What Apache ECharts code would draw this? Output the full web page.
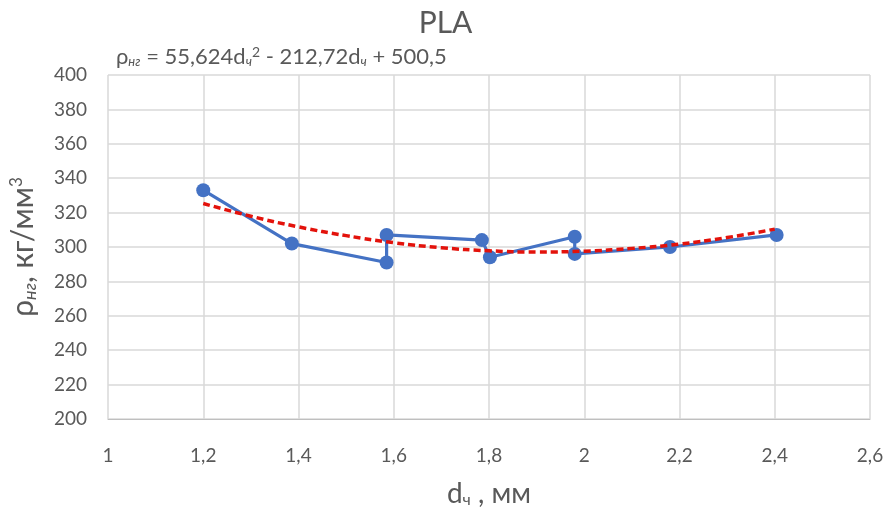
<!DOCTYPE html>
<html><head><meta charset="utf-8">
<script src="https://cdn.jsdelivr.net/npm/echarts@6/dist/echarts.min.js"></script>
<style>html,body{margin:0;padding:0;background:#fff}#c{width:891px;height:513px}</style>
</head><body><div id="c"></div>
<script>
// measured data (diameter d, mm ; density)
const dValues = [1.2, 1.386, 1.585, 1.585, 1.785, 1.802, 1.98, 1.98, 2.18, 2.404];
const rhoValues = [333, 302, 291, 307, 304, 294, 306, 296, 300, 307];
// polynomial trend line
const trendD = [1.2, 1.3, 1.4, 1.5, 1.6, 1.7, 1.8, 1.9, 2.0, 2.1, 2.2, 2.3, 2.4];
const trendRho = [325.3, 317.9, 311.7, 306.6, 302.5, 299.6, 297.8, 297.1, 297.6, 299.2, 301.7, 305.5, 310.4];
const xTicks = ['1', '1,2', '1,4', '1,6', '1,8', '2', '2,2', '2,4', '2,6'];

const FONT = 'Lato, "Open Sans", sans-serif';
const GREY = '#595959';
const chart = echarts.init(document.getElementById('c'), null, {renderer: 'canvas'});
chart.setOption({
  animation: false,
  backgroundColor: '#fff',
  title: {
    text: 'PLA', left: 'center', top: 3,
    textStyle: {fontFamily: FONT, fontSize: 30, fontWeight: 'normal', color: GREY}
  },
  graphic: [{
    type: 'text', left: 116, top: 45,
    style: {
      text: '{r|ρ}{s|нг}{t| = 55,624d}{s|ч}{p|2}{t| - 212,72d}{s|ч}{t| + 500,5}',
      rich: {
        r: {fontFamily: FONT, fontSize: 22, fill: GREY},
        t: {fontFamily: FONT, fontSize: 22, fill: GREY},
        s: {fontFamily: FONT, fontSize: 13, fontStyle: 'italic', fill: GREY, padding: [10, 0, 0, 0]},
        p: {fontFamily: FONT, fontSize: 14, fill: GREY, padding: [0, 0, 10, 0]}
      }
    }
  }],
  grid: {left: 108, right: 21, top: 75, bottom: 94, containLabel: false},
  xAxis: {
    type: 'value', min: 1, max: 2.6, interval: 0.2,
    axisLine: {show: true, lineStyle: {color: '#bfbfbf'}},
    axisTick: {show: false},
    splitLine: {show: true, lineStyle: {color: '#d9d9d9', width: 1.5}},
    axisLabel: {
      margin: 27, fontFamily: FONT, fontSize: 19, color: GREY,
      formatter: v => xTicks[Math.round((v - 1) / 0.2)]
    },
    name: '{t|d}{s|ч}{t| , мм}', nameLocation: 'middle', nameGap: 61,
    nameTextStyle: {
      rich: {
        t: {fontFamily: FONT, fontSize: 28, color: GREY},
        s: {fontFamily: FONT, fontSize: 16, color: GREY, padding: [12, 0, 0, 0]}
      }
    }
  },
  yAxis: {
    type: 'value', min: 200, max: 400, interval: 20,
    axisLine: {show: false},
    axisTick: {show: false},
    splitLine: {show: true, lineStyle: {color: '#d9d9d9', width: 1.5}},
    axisLabel: {margin: 21, fontFamily: FONT, fontSize: 19, color: GREY},
    name: '{t|ρ}{s|нг}{t|, кг/мм}{p|3}', nameLocation: 'middle', nameGap: 69, nameRotate: 90,
    nameTextStyle: {
      rich: {
        t: {fontFamily: FONT, fontSize: 30, color: GREY},
        s: {fontFamily: FONT, fontSize: 18, fontStyle: 'italic', color: GREY, padding: [13, 0, 0, 0]},
        p: {fontFamily: FONT, fontSize: 17, color: GREY, padding: [0, 0, 13, 0]}
      }
    }
  },
  series: [{
    type: 'line',
    data: dValues.map((d, i) => [d, rhoValues[i]]),
    symbol: 'circle', symbolSize: 14,
    lineStyle: {color: '#4472C4', width: 3.2},
    itemStyle: {color: '#4472C4'},
    z: 2
  }, {
    type: 'line',
    data: trendD.map((d, i) => [d, trendRho[i]]),
    showSymbol: false, smooth: true,
    lineStyle: {color: '#E3120B', width: 3.5, type: [7, 4]},
    z: 3
  }]
});
</script>
</body></html>
